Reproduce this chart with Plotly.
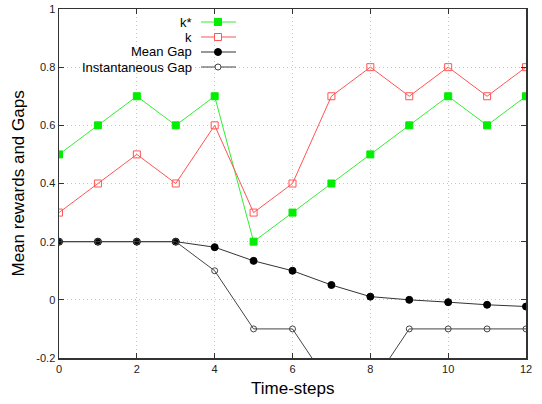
import plotly.graph_objects as go

steps = list(range(13))
k_star = [0.5, 0.6, 0.7, 0.6, 0.7, 0.2, 0.3, 0.4, 0.5, 0.6, 0.7, 0.6, 0.7]
k_vals = [0.3, 0.4, 0.5, 0.4, 0.6, 0.3, 0.4, 0.7, 0.8, 0.7, 0.8, 0.7, 0.8]
mean_gap = [0.2, 0.2, 0.2, 0.2, 0.181, 0.134, 0.1, 0.051, 0.011, 0.0, -0.008, -0.017, -0.023]
inst_gap = [0.2, 0.2, 0.2, 0.2, 0.1, -0.1, -0.1, -0.3, -0.3, -0.1, -0.1, -0.1, -0.1]
series_names = ["k*", "k", "Mean Gap", "Instantaneous Gap"]
x_ticks = [0, 2, 4, 6, 8, 10, 12]
y_ticks = [-0.2, 0, 0.2, 0.4, 0.6, 0.8, 1]
y_tick_labels = ["-0.2", "0", "0.2", "0.4", "0.6", "0.8", "1"]
x_title = "Time-steps"
y_title = "Mean rewards and Gaps"

FONT = "Liberation Sans, Arial, sans-serif"
W, H = 542, 404
# plot box in screen pixels
SL, SR, ST, SB = 59, 526, 9, 358
ML, MT = SL, ST
MR, MB = W - SR, H - SB

styles = [
    dict(color="#33ee33", mcolor="#00ee00", symbol="square", size=7, shape="rect", fill=True),
    dict(color="#ff5555", mcolor="#ff5555", symbol="square-open", size=7, shape="rect", fill=False),
    dict(color="#333333", mcolor="#000000", symbol="circle", size=7, shape="circle", fill=True),
    dict(color="#444444", mcolor="#444444", symbol="circle-open", size=6, shape="circle", fill=False),
]
data = [k_star, k_vals, mean_gap, inst_gap]

fig = go.Figure()
for name, ys, st in zip(series_names, data, styles):
    fig.add_trace(go.Scatter(
        x=steps, y=ys, mode="lines+markers", name=name,
        line=dict(color=st["color"], width=1),
        marker=dict(color=st["mcolor"], symbol=st["symbol"], size=st["size"],
                    line=dict(color=st["mcolor"], width=1)),
        showlegend=False, cliponaxis=True,
    ))

pw = SR - SL
ph = SB - ST
def px_x(sx):
    return (sx - SL) / pw
def px_y(sy):
    return 1 - (sy - ST) / ph

# gnuplot-style key: text right-aligned, sample line + marker to the right
text_right = 194
line_x0, line_x1, mark_x = 201, 236, 218
rows_px = [22, 37, 52, 67]
for name, st, rpx in zip(series_names, styles, rows_px):
    ry = px_y(rpx)
    fig.add_shape(type="line", xref="paper", yref="paper",
                  x0=px_x(line_x0), x1=px_x(line_x1), y0=ry, y1=ry,
                  line=dict(color=st["color"], width=1))
    r = st["size"] / 2
    fig.add_shape(type=st["shape"], xref="paper", yref="paper",
                  xsizemode="pixel", ysizemode="pixel",
                  xanchor=px_x(mark_x), yanchor=ry,
                  x0=-r, x1=r, y0=-r, y1=r,
                  line=dict(color=st["mcolor"], width=1),
                  fillcolor=st["mcolor"] if st["fill"] else "white")
    fig.add_annotation(
        x=px_x(text_right), y=ry, xref="paper", yref="paper", text=name,
        showarrow=False, xanchor="right", yanchor="middle",
        font=dict(family=FONT, size=13, color="#000"),
    )

# axis titles
fig.add_annotation(x=0.5, y=px_y(388), xref="paper", yref="paper", text=x_title,
                   showarrow=False, xanchor="center", yanchor="middle",
                   font=dict(family=FONT, size=17, color="#000"))
fig.add_annotation(x=px_x(18), y=0.5, xref="paper", yref="paper", text=y_title,
                   showarrow=False, xanchor="center", yanchor="middle", textangle=-90,
                   font=dict(family=FONT, size=17, color="#000"))

axis_common = dict(
    showline=True, linecolor="#333333", linewidth=1.5, mirror="ticks",
    ticks="inside", ticklen=5, tickcolor="#333333", tickwidth=1,
    showgrid=True, gridcolor="#c8c8c8", griddash="1px,3px", gridwidth=1,
    zeroline=False, automargin=False,
    tickfont=dict(family=FONT, size=11, color="#222"),
)

fig.update_layout(
    width=W, height=H,
    margin=dict(l=ML, r=MR, t=MT, b=MB),
    paper_bgcolor="white", plot_bgcolor="white",
    xaxis=dict(range=[0, 12], tickvals=x_ticks, **axis_common),
    yaxis=dict(range=[-0.2, 1], tickvals=y_ticks, ticktext=y_tick_labels, **axis_common),
    showlegend=False,
)

fig.write_html("out.html", config={"displayModeBar": False, "staticPlot": True},
               post_script="document.body.style.margin='0px';")
